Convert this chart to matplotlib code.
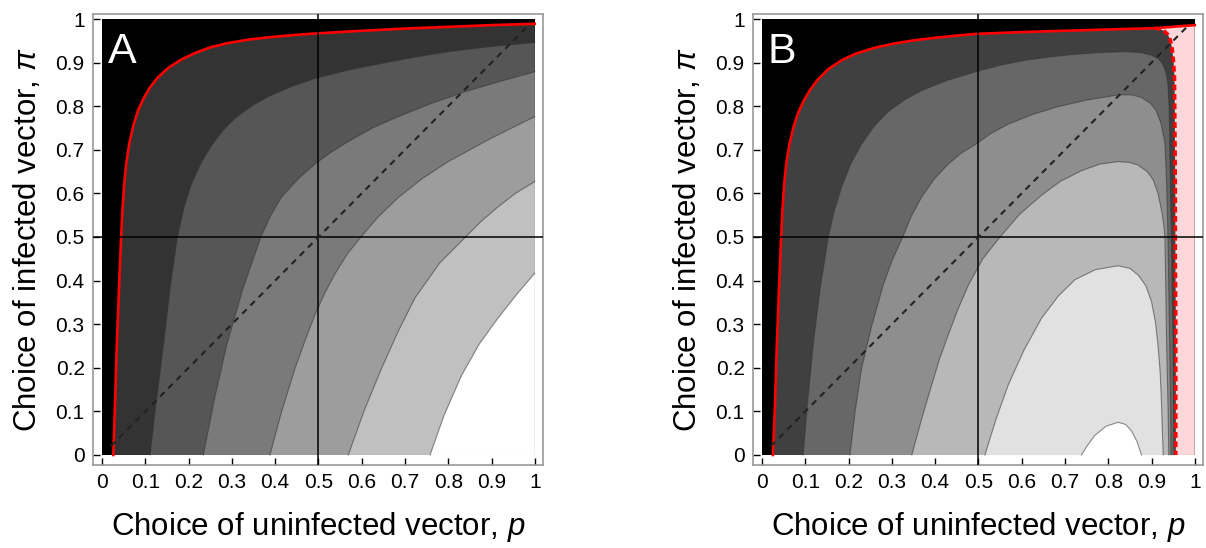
import matplotlib
matplotlib.use("Agg")
import matplotlib.pyplot as plt
from matplotlib.patches import Polygon

plt.rcParams['font.family'] = ['Liberation Sans', 'DejaVu Sans']
plt.rcParams['mathtext.fontset'] = 'custom'
plt.rcParams['mathtext.rm'] = 'Liberation Sans'
plt.rcParams['mathtext.it'] = 'Liberation Sans:italic'

# ---- panel A : contour boundaries (p, pi) ----
red_a_p = [0.026, 0.030, 0.034, 0.039, 0.044, 0.047, 0.051, 0.056, 0.063, 0.072, 0.083, 0.096, 0.11, 0.128, 0.153,
           0.183, 0.215, 0.25, 0.292, 0.34, 0.384, 0.44, 0.496, 0.6, 0.7, 0.8, 0.9, 1.0]
red_a_pi = [0.0, 0.12, 0.25, 0.38, 0.5, 0.56, 0.62, 0.67, 0.715, 0.755, 0.79, 0.818, 0.842, 0.865, 0.888,
            0.907, 0.922, 0.935, 0.945, 0.953, 0.958, 0.963, 0.967, 0.973, 0.978, 0.982, 0.986, 0.989]

a1_p = [0.111, 0.125, 0.142, 0.157, 0.174, 0.19, 0.207, 0.23, 0.253, 0.28, 0.307, 0.345, 0.384, 0.44, 0.494,
        0.57, 0.646, 0.72, 0.8, 0.9, 1.0]
a1_pi = [0.0, 0.12, 0.252, 0.38, 0.5, 0.57, 0.623, 0.672, 0.71, 0.745, 0.772, 0.8, 0.822, 0.846, 0.864,
         0.883, 0.898, 0.912, 0.925, 0.937, 0.946]
a2_p = [0.234, 0.26, 0.288, 0.325, 0.367, 0.39, 0.415, 0.455, 0.494, 0.53, 0.569, 0.625, 0.684, 0.76, 0.838, 0.92, 1.0]
a2_pi = [0.0, 0.13, 0.252, 0.38, 0.5, 0.55, 0.592, 0.635, 0.669, 0.695, 0.719, 0.75, 0.776, 0.806, 0.833, 0.857, 0.879]
a3_p = [0.388, 0.415, 0.446, 0.47, 0.492, 0.515, 0.538, 0.566, 0.598, 0.638, 0.684, 0.74, 0.8, 0.9, 1.0]
a3_pi = [0.0, 0.1, 0.199, 0.265, 0.322, 0.372, 0.415, 0.46, 0.5, 0.546, 0.59, 0.634, 0.673, 0.727, 0.776]
a4_p = [0.569, 0.605, 0.646, 0.685, 0.723, 0.78, 0.84, 0.875, 0.915, 0.955, 1.0]
a4_pi = [0.0, 0.1, 0.199, 0.285, 0.36, 0.44, 0.5, 0.535, 0.569, 0.6, 0.627]
a5_p = [0.758, 0.79, 0.831, 0.872, 0.915, 0.958, 1.0]
a5_pi = [0.0, 0.09, 0.183, 0.255, 0.314, 0.368, 0.417]

gris_a = ['#333333', '#565656', '#7a7a7a', '#9d9d9d', '#c0c0c0', '#ffffff']

# ---- panel B ----
red_b_p = [0.025, 0.030, 0.034, 0.039, 0.044, 0.047, 0.051, 0.056, 0.063, 0.072, 0.083, 0.096, 0.11, 0.128, 0.153,
           0.183, 0.215, 0.26, 0.307, 0.35, 0.40, 0.45, 0.496, 0.6, 0.7, 0.8, 0.908, 1.0]
red_b_pi = [0.0, 0.12, 0.25, 0.38, 0.5, 0.56, 0.62, 0.67, 0.712, 0.75, 0.784, 0.812, 0.836, 0.86, 0.885,
            0.905, 0.92, 0.934, 0.944, 0.951, 0.957, 0.962, 0.966, 0.97, 0.973, 0.976, 0.979, 0.986]
dash_b_p = [0.908, 0.92, 0.93, 0.938, 0.944, 0.948, 0.951, 0.953, 0.954, 0.955, 0.955, 0.956, 0.956, 0.956]
dash_b_pi = [0.979, 0.977, 0.972, 0.964, 0.95, 0.93, 0.9, 0.868, 0.75, 0.6, 0.45, 0.3, 0.15, 0.0]

b1_p = [0.095, 0.105, 0.118, 0.134, 0.153, 0.167, 0.184, 0.205, 0.23, 0.26, 0.292, 0.33, 0.369, 0.43, 0.494,
        0.55, 0.607, 0.665, 0.723, 0.78, 0.838, 0.875, 0.9, 0.917, 0.927, 0.934, 0.938, 0.941, 0.942, 0.944,
        0.946, 0.948, 0.950, 0.951, 0.952]
b1_pi = [0.0, 0.12, 0.252, 0.38, 0.5, 0.56, 0.615, 0.668, 0.713, 0.755, 0.788, 0.815, 0.836, 0.86, 0.879,
         0.894, 0.905, 0.913, 0.919, 0.923, 0.925, 0.923, 0.917, 0.908, 0.895, 0.875, 0.85, 0.79, 0.715, 0.6,
         0.5, 0.37, 0.25, 0.12, 0.0]
b2_p = [0.203, 0.215, 0.23, 0.253, 0.28, 0.3, 0.325, 0.345, 0.369, 0.398, 0.43, 0.46, 0.494, 0.53, 0.569,
        0.625, 0.684, 0.75, 0.823, 0.855, 0.877, 0.897, 0.911, 0.922, 0.931, 0.935, 0.938, 0.94, 0.942, 0.944, 0.945]
b2_pi = [0.0, 0.1, 0.199, 0.295, 0.39, 0.445, 0.5, 0.548, 0.592, 0.633, 0.667, 0.692, 0.713, 0.738, 0.759,
         0.781, 0.799, 0.814, 0.826, 0.826, 0.82, 0.807, 0.79, 0.76, 0.715, 0.62, 0.5, 0.38, 0.25, 0.12, 0.0]
b3_p = [0.346, 0.368, 0.392, 0.41, 0.43, 0.453, 0.477, 0.51, 0.55, 0.595, 0.646, 0.69, 0.738, 0.78, 0.823,
        0.85, 0.869, 0.89, 0.904, 0.915, 0.923, 0.928, 0.931, 0.933, 0.935, 0.938, 0.94]
b3_pi = [0.0, 0.08, 0.161, 0.22, 0.275, 0.335, 0.39, 0.45, 0.5, 0.552, 0.596, 0.628, 0.652, 0.667, 0.673,
         0.671, 0.665, 0.65, 0.631, 0.6, 0.562, 0.53, 0.5, 0.38, 0.252, 0.12, 0.0]
b4_p = [0.515, 0.54, 0.569, 0.605, 0.646, 0.685, 0.723, 0.77, 0.823, 0.85, 0.869, 0.887, 0.9, 0.909, 0.915,
        0.92, 0.923, 0.925, 0.927]
b4_pi = [0.0, 0.08, 0.161, 0.24, 0.314, 0.365, 0.402, 0.425, 0.434, 0.428, 0.413, 0.388, 0.352, 0.305, 0.252,
         0.19, 0.122, 0.06, 0.0]
b5_p = [0.738, 0.752, 0.769, 0.795, 0.823, 0.84, 0.854, 0.866, 0.877]
b5_pi = [0.0, 0.022, 0.045, 0.066, 0.075, 0.07, 0.055, 0.032, 0.0]

gris_b = ['#404040', '#676767', '#8e8e8e', '#b8b8b8', '#e1e1e1', '#ffffff']
rose = '#ffd6d9'

diag = [0.02, 0.98]
ticks = [0, 0.1, 0.2, 0.3, 0.4, 0.5, 0.6, 0.7, 0.8, 0.9, 1]
tick_labels = ['0', '0.1', '0.2', '0.3', '0.4', '0.5', '0.6', '0.7', '0.8', '0.9', '1']


def cadre(ax, lettre):
    ax.set_xlim(-0.021, 1.019)
    ax.set_ylim(-0.023, 1.0115)
    ax.set_xticks(ticks)
    ax.set_xticklabels(tick_labels)
    ax.set_yticks(ticks)
    ax.set_yticklabels(tick_labels)
    ax.tick_params(direction='in', length=5, width=1, top=False, right=False,
                   labelsize=15, pad=6, colors='black')
    for s in ax.spines.values():
        s.set_color('#999999')
        s.set_linewidth(1.2)
    ax.axvline(0.5, color='black', lw=1.1, zorder=6)
    ax.axhline(0.5, color='black', lw=1.1, zorder=6)
    ax.plot(diag, diag, color='#222222', lw=1.5, ls=(0, (3, 2.6)), zorder=7)
    ax.text(0.013, 0.9, lettre, color='white', fontsize=31, zorder=8)
    ax.set_xlabel(r'Choice of uninfected vector, $p$', fontsize=22.5, labelpad=13)
    ax.set_ylabel(r'Choice of infected vector, $\pi$', fontsize=22.5, labelpad=9)


def remplir(ax, p, pi, couleur, coin=None, trait=True):
    pts = list(zip(p, pi))
    if coin is not None:
        pts.append(coin)
    ax.add_patch(Polygon(pts, closed=True, facecolor=couleur, edgecolor='none', zorder=2))
    if trait:
        ax.plot(p, pi, color='#333333', lw=0.8, alpha=0.55, zorder=3)


fig = plt.figure(figsize=(12.06, 5.48), dpi=100)
ax_a = fig.add_axes([93 / 1206, 1 - 465 / 548, 450 / 1206, 451 / 548])
ax_b = fig.add_axes([753 / 1206, 1 - 465 / 548, 450 / 1206, 451 / 548])

# panel A
ax_a.add_patch(Polygon([(0, 0), (1, 0), (1, 1), (0, 1)], facecolor='black', edgecolor='none', zorder=1))
remplir(ax_a, red_a_p, red_a_pi, gris_a[0], coin=(1, 0), trait=False)
courbes_a = [(a1_p, a1_pi), (a2_p, a2_pi), (a3_p, a3_pi), (a4_p, a4_pi), (a5_p, a5_pi)]
for (p, pi), c in zip(courbes_a, gris_a[1:]):
    remplir(ax_a, p, pi, c, coin=(1, 0))
ax_a.plot(red_a_p, red_a_pi, color='#ff0000', lw=1.9, zorder=5)
cadre(ax_a, 'A')

# panel B
ax_b.add_patch(Polygon([(0, 0), (1, 0), (1, 1), (0, 1)], facecolor='black', edgecolor='none', zorder=1))
remplir(ax_b, red_b_p[:-1] + dash_b_p[1:], red_b_pi[:-1] + dash_b_pi[1:], gris_b[0], trait=False)
remplir(ax_b, dash_b_p + [1.0, 1.0], dash_b_pi + [0.0, red_b_pi[-1]], rose, trait=False)
courbes_b = [(b1_p, b1_pi), (b2_p, b2_pi), (b3_p, b3_pi), (b4_p, b4_pi), (b5_p, b5_pi)]
for (p, pi), c in zip(courbes_b, gris_b[1:]):
    remplir(ax_b, p, pi, c)
ax_b.plot(red_b_p, red_b_pi, color='#ff0000', lw=1.9, zorder=5)
ax_b.plot(dash_b_p, dash_b_pi, color='#ff0000', lw=2.6, ls=(0, (1.6, 1.0)), zorder=5)
cadre(ax_b, 'B')

plt.savefig('out.png', dpi=100)
